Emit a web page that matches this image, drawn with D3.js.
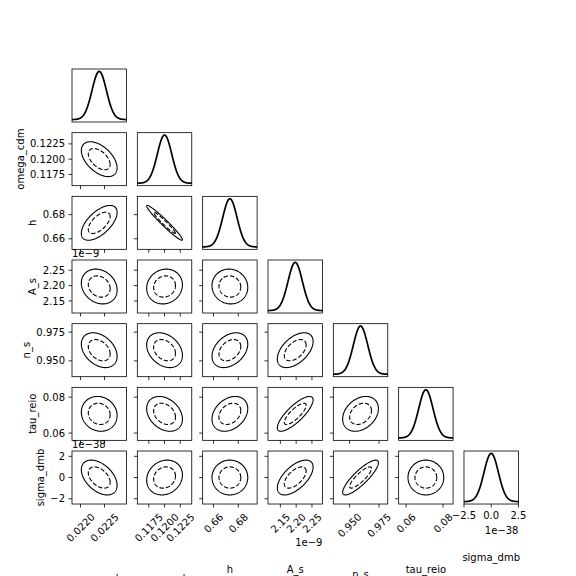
<!DOCTYPE html>
<html>
<head>
<meta charset="utf-8">
<script src="https://cdn.jsdelivr.net/npm/d3@7"></script>
<style>
  body { margin: 0; background: #fff; }
  text { font-family: "DejaVu Sans", sans-serif; font-size: 10px; fill: #000; }
</style>
</head>
<body>
<div id="corner"></div>
<script>
// parameters of the triangle plot
var names = ["omega_b", "omega_cdm", "h", "A_s", "n_s", "tau_reio", "sigma_dmb"];
var means = [0.02239, 0.1200, 0.6732, 2.197, 0.9593, 0.0707, 0.0];
var sigmas = [0.00015, 0.001146, 0.0058, 0.0228, 0.0061, 0.0039, 0.6614];

// correlation coefficients, lower triangle (row i, col j < i)
var corr = [
  [],
  [-0.5],
  [0.6, -0.97],
  [-0.2, 0.1, -0.05],
  [-0.35, -0.3, 0.35, 0.5],
  [-0.1, -0.3, 0.3, 0.8, 0.3],
  [-0.45, 0.15, 0.0, 0.6, 0.85, 0.0]
];

var xTicks = [[0.0220, 0.0225], [0.1175, 0.1200, 0.1225], [0.66, 0.68], [2.15, 2.20, 2.25], [0.950, 0.975], [0.06, 0.08], [-2.5, 0, 2.5]];
var xTickLabels = [["0.0220", "0.0225"], ["0.1175", "0.1200", "0.1225"], ["0.66", "0.68"], ["2.15", "2.20", "2.25"], ["0.950", "0.975"], ["0.06", "0.08"], ["\u22122.5", "0.0", "2.5"]];
var yTicks = [[], [0.1175, 0.1200, 0.1225], [0.66, 0.68], [2.15, 2.20, 2.25], [0.950, 0.975], [0.06, 0.08], [-2, 0, 2]];
var yTickLabels = [[], ["0.1175", "0.1200", "0.1225"], ["0.66", "0.68"], ["2.15", "2.20", "2.25"], ["0.950", "0.975"], ["0.06", "0.08"], ["\u22122", "0", "2"]];
var offsetTexts = ["", "", "", "1e\u22129", "", "", "1e\u221238"];

// delta chi^2 levels: 68% (dashed) and 95% (solid)
var levels = [2.30, 6.17];
var nSigma = 3.78;

var svgWidth = 576;
var svgHeight = 576;
var n = names.length;
var x0 = 72, pitchX = 65.33, w = 54.44;
var y0 = 69, pitchY = 63.67, h = 53;
var tickLen = 3.5, tickPad = 3.5;

var svg = d3.select("#corner")
  .append("svg")
  .attr("width", svgWidth)
  .attr("height", svgHeight);

svg.append("rect")
  .attr("width", svgWidth)
  .attr("height", svgHeight)
  .attr("fill", "#fff");

function paramScale(k, range) {
  return d3.scaleLinear()
    .domain([means[k] - nSigma * sigmas[k], means[k] + nSigma * sigmas[k]])
    .range(range);
}

function textWidth(str) {
  var t = svg.append("text").text(str);
  var len = t.node().getComputedTextLength();
  t.remove();
  return len;
}

var textH = 11.6;

for (var i = 0; i < n; i++) {
  for (var j = 0; j <= i; j++) {
    var panel = svg.append("g")
      .attr("transform", `translate(${x0 + j * pitchX}, ${y0 + i * pitchY})`);
    var xScale = paramScale(j, [0, w]);

    if (i === j) {
      // 1D marginal
      var yDiag = d3.scaleLinear().domain([-0.05, 1.05]).range([h, 0]);
      var xs = d3.range(0, 301).map(p => xScale.domain()[0] + p / 300 * (xScale.domain()[1] - xScale.domain()[0]));
      var line = d3.line()
        .x(d => xScale(d))
        .y(d => yDiag(Math.exp(-0.5 * Math.pow((d - means[j]) / sigmas[j], 2))));
      panel.append("path")
        .datum(xs)
        .attr("d", line)
        .attr("fill", "none")
        .attr("stroke", "#000")
        .attr("stroke-width", 1.7);
    } else {
      var yScale = paramScale(i, [h, 0]);
      var rho = corr[i][j];
      var sx = sigmas[j], sy = sigmas[i];
      levels.forEach(function(lv, li) {
        var k = Math.sqrt(lv);
        var pts = d3.range(0, 241).map(function(p) {
          var t = p / 240 * 2 * Math.PI;
          var u = Math.cos(t), v = Math.sin(t);
          return [means[j] + k * sx * u, means[i] + k * sy * (rho * u + Math.sqrt(1 - rho * rho) * v)];
        });
        panel.append("path")
          .datum(pts)
          .attr("d", d3.line().x(d => xScale(d[0])).y(d => yScale(d[1])))
          .attr("fill", "none")
          .attr("stroke", "#000")
          .attr("stroke-width", 1.1)
          .attr("stroke-dasharray", li === 0 ? "4.4,2" : null);
      });

      // y ticks
      var yAxisG = panel.append("g");
      yTicks[i].forEach(function(tv, ti) {
        var yy = yScale(tv);
        yAxisG.append("line")
          .attr("x1", -tickLen).attr("x2", 0)
          .attr("y1", yy).attr("y2", yy)
          .attr("stroke", "#000").attr("stroke-width", 0.8);
        if (j === 0) {
          yAxisG.append("text")
            .attr("x", -tickLen - tickPad)
            .attr("y", yy)
            .attr("dy", "0.36em")
            .attr("text-anchor", "end")
            .text(yTickLabels[i][ti]);
        }
      });
      if (j === 0) {
        var maxW = d3.max(yTickLabels[i], s => textWidth(s));
        var labelRight = -tickLen - tickPad - maxW - 4;
        panel.append("text")
          .attr("transform", `translate(${labelRight - 2.4}, ${h / 2}) rotate(-90)`)
          .attr("text-anchor", "middle")
          .text(names[i]);
        if (offsetTexts[i]) {
          panel.append("text")
            .attr("x", 0)
            .attr("y", -3.5)
            .text(offsetTexts[i]);
        }
      }
    }

    // x ticks: all off-diagonal panels, plus the last diagonal
    if (i !== j || i === n - 1) {
      var xAxisG = panel.append("g").attr("transform", `translate(0, ${h})`);
      var labelBottom = 0;
      xTicks[j].forEach(function(tv, ti) {
        var xx = xScale(tv);
        xAxisG.append("line")
          .attr("x1", xx).attr("x2", xx)
          .attr("y1", 0).attr("y2", tickLen)
          .attr("stroke", "#000").attr("stroke-width", 0.8);
        if (i === n - 1) {
          var lbl = xTickLabels[j][ti];
          if (j === n - 1) {
            xAxisG.append("text")
              .attr("x", xx)
              .attr("y", tickLen + tickPad)
              .attr("dy", "0.76em")
              .attr("text-anchor", "middle")
              .text(lbl);
            labelBottom = Math.max(labelBottom, tickLen + tickPad + textH);
          } else {
            var tw = textWidth(lbl);
            var bb = (tw + textH) / Math.SQRT2;
            xAxisG.append("text")
              .attr("transform", `translate(${xx}, ${tickLen + tickPad + bb / 2}) rotate(-45)`)
              .attr("dy", "0.36em")
              .attr("text-anchor", "middle")
              .text(lbl);
            labelBottom = Math.max(labelBottom, tickLen + tickPad + bb);
          }
        }
      });
      if (i === n - 1) {
        xAxisG.append("text")
          .attr("x", w / 2)
          .attr("y", labelBottom + 38.5)
          .attr("text-anchor", "middle")
          .text(names[j]);
        if (offsetTexts[j]) {
          xAxisG.append("text")
            .attr("x", w)
            .attr("y", labelBottom + 11)
            .attr("text-anchor", "end")
            .text(offsetTexts[j]);
        }
      }
    }

    // spines
    panel.append("rect")
      .attr("width", w)
      .attr("height", h)
      .attr("fill", "none")
      .attr("stroke", "#000")
      .attr("stroke-width", 0.8);
  }
}
</script>
</body>
</html>
